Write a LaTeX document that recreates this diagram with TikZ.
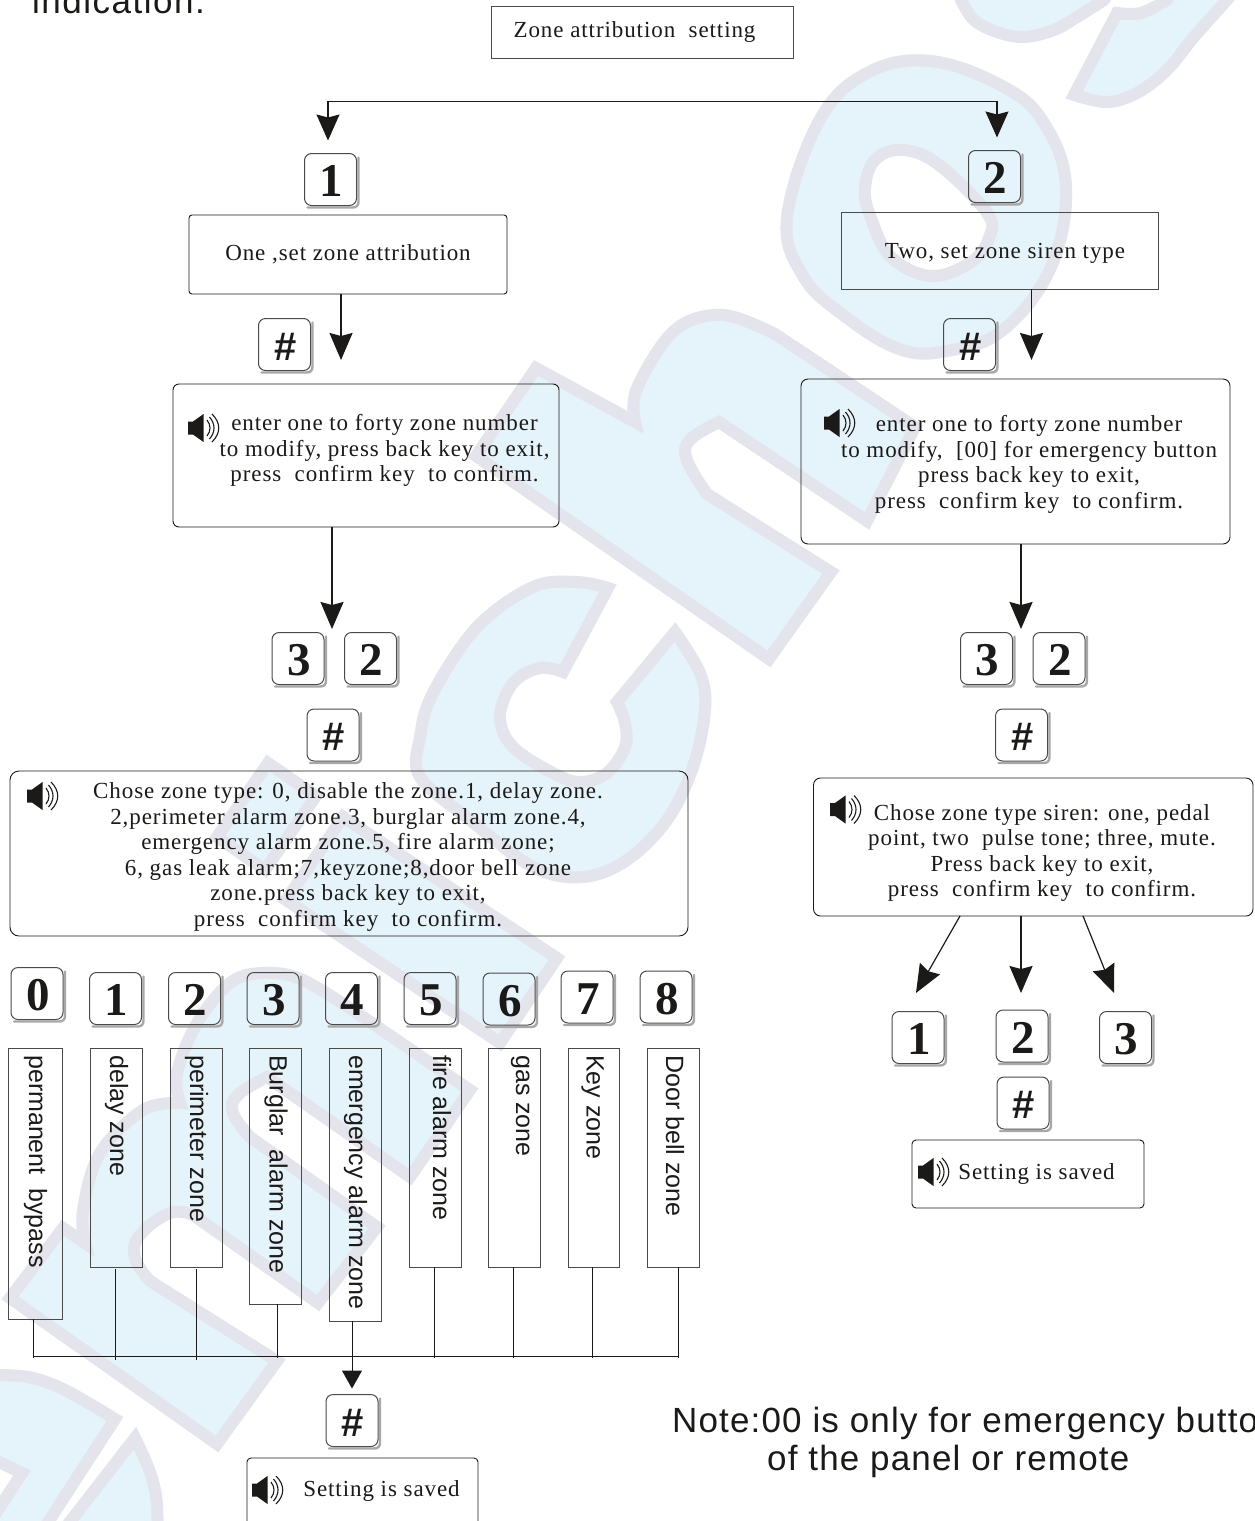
\documentclass[tikz,border=0pt]{standalone}
\usepackage{fontspec}
\usetikzlibrary{arrows.meta,calc}
\newfontfamily\serfont[LetterSpace=4]{Liberation Serif}
\newfontfamily\serbold{Liberation Serif}
\newfontfamily\sansfont{Liberation Sans}
\newfontfamily\sanswide[LetterSpace=3.3]{Liberation Sans}
\definecolor{wmfill}{HTML}{E5F3FA}
\definecolor{wmline}{HTML}{E3E4EC}
\definecolor{ink}{HTML}{1C1A18}
\definecolor{rim}{HTML}{4A4A4A}
\definecolor{keyshade}{HTML}{A8A8A8}
\tikzset{
  wm/.style={fill=wmfill,draw=wmline,line width=12pt,miter limit=6},
  flowbox/.style={draw=ink,line width=.9pt,inner sep=0pt,outer sep=0pt},
  rimbox/.style={draw=rim,line width=1pt,inner sep=0pt,outer sep=0pt},
  keycap/.style={draw=rim,line width=1pt,rounded corners=7pt,minimum width=52pt,minimum height=52pt,inner sep=0pt,outer sep=0pt,text=ink},
  digitfont/.style={font=\serbold\bfseries\fontsize{47}{47}\selectfont,text height=34.5pt,text depth=0pt},
  hashfont/.style={font=\sansfont\bfseries\fontsize{40}{40}\selectfont,text height=31pt,text depth=0pt},
  body/.style={font=\serfont\fontsize{23}{25.5}\selectfont,align=center,inner sep=0pt,text=ink},
  barlabel/.style={font=\sansfont\fontsize{25}{25}\selectfont,rotate=-90,anchor=base west,inner sep=0pt,text=ink},
  note/.style={font=\sanswide\fontsize{35}{35}\selectfont,anchor=base west,inner sep=0pt,text=ink},
  bar/.style={rimbox,anchor=north,minimum width=51.5pt},
  bigarrow/.style={draw=ink,line width=1.8pt,-{Stealth[length=27pt,width=23pt,inset=3pt]}},
  thinarrow/.style={draw=ink,line width=1.2pt,-{Stealth[length=26pt,width=23pt,inset=3pt]}},
  fanarrow/.style={draw=ink,line width=1.2pt,-{Stealth[length=28pt,width=23pt,inset=3pt]}},
  stem/.style={draw=ink,line width=.9pt},
  spk/.pic={
    \fill[ink] (0,-6.5) -- (5,-6.5) -- (15.5,-14) -- (15.5,14) -- (5,6.5) -- (0,6.5) -- cycle;
    \draw[ink,line width=1.1pt] (19,-8) .. controls (23,-3) and (23,3) .. (19,8);
    \draw[ink,line width=1.1pt] (21.5,-11) .. controls (27.5,-4) and (27.5,4) .. (21.5,11);
    \draw[ink,line width=1.1pt] (24,-14) .. controls (33,-5) and (33,5) .. (24,14);
  }
}
% name, text, style, x, y
\newcommand{\keybox}[5]{%
  \draw[keyshade,line width=2.4pt,line cap=round] (#4-23,#5+28) -- (#4+22,#5+28) .. controls (#4+26,#5+28) and (#4+28,#5+26) .. (#4+28,#5+22) -- (#4+28,#5-22);
  \node[keycap,#3] (#1) at (#4,#5) {\kern2pt#2};}
\begin{document}
\begin{tikzpicture}[x=1pt,y=-1pt]
\useasboundingbox (0,0) rectangle (1254,1521);
\clip (0,0) rectangle (1254,1521);
\fill[white] (0,0) rectangle (1254,1521);
% ---- watermark ----
% s, top right
\draw[wm] (955,-30) -- plot[smooth,tension=.6] coordinates {(961,0) (974,20) (997,32) (1024,37) (1054,30) (1077,17) (1104,0)} -- (1125,-30) -- cycle;
\draw[wm] (1117,13) -- (1074,95) -- plot[smooth,tension=.6] coordinates {(1074,95) (1107,102) (1137,93) (1167,70) (1194,37) (1227,0)} -- (1250,-30) -- (1180,-30) -- plot[smooth,tension=.6] coordinates {(1167,0) (1141,13) (1117,13)} -- cycle;
% o
\draw[wm,even odd rule]
  plot[smooth cycle,tension=.65] coordinates {(787,218) (819,121) (867,73) (931,61) (1004,87) (1044,123) (1066,186) (1051,267) (1003,330) (947,351) (899,349) (843,315) (803,276)}
  plot[smooth cycle,tension=.65] coordinates {(865,189) (875,160) (903,150) (939,165) (987,213) (989,238) (971,262) (931,276) (891,257) (871,218)};
% h
\draw[wm] (536,368) -- (635,422) -- plot[smooth,tension=.6] coordinates {(635,422) (637,388) (675,330) (723,315) (775,334)} -- (915,427) -- (867,521) -- (719,422) -- plot[smooth,tension=.7] coordinates {(719,422) (690,440) (687,460) (707,494)} -- (831,572) -- (769,659) -- (476,456) -- cycle;
% c
\draw[wm] (608,588) -- (563,672) -- plot[smooth,tension=.6] coordinates {(563,672) (540,668) (513,683) (500,717) (513,747) (553,773) (580,782) (607,773) (625,747) (625,723) (617,702)} -- (675,632) -- plot[smooth,tension=.6] coordinates {(675,632) (700,673) (705,710) (693,767) (667,820) (627,860) (583,877) (533,867) (470,820) (420,777) (420,737) (433,693) (477,627) (533,587) (577,582) (608,588)} -- cycle;
% i
\draw[wm] (268,763) -- (316,796) -- (265,870) -- (217,837) -- cycle;
\draw[wm] (343,817) -- (557,958) -- (500,1043) -- (286,900) -- cycle;
% m
\draw[wm] (10,1298) -- (63,1228) -- (85,1243) -- plot[smooth,tension=.6] coordinates {(85,1243) (83,1210) (100,1153) (143,1110) (180,1103)} -- plot[smooth,tension=.6] coordinates {(180,1103) (177,1073) (197,1023) (230,983) (263,973) (303,980) (363,1017)} -- (470,1090) -- (410,1177) -- (267,1077) -- plot[smooth,tension=.7] coordinates {(267,1077) (238,1095) (233,1113) (250,1137)} -- (377,1227) -- (318,1303) -- (193,1215) -- plot[smooth,tension=.7] coordinates {(193,1215) (170,1213) (140,1235) (135,1258) (150,1281)} -- (277,1361) -- (217,1444) -- cycle;
% bottom left pieces
\draw[wm] (-30,1376) -- plot[smooth,tension=.6] coordinates {(-30,1376) (0,1375) (33,1378) (67,1391) (115,1419)} -- (30,1550) -- (-28,1550) -- (22,1473) -- (-30,1448) -- cycle;
\draw[wm] (135,1438) -- plot[smooth,tension=.6] coordinates {(135,1438) (150,1472) (157,1504) (157,1550)} -- (48,1550) -- cycle;
% ---- top text ----
\node[font=\sansfont\fontsize{35}{35}\selectfont,anchor=base west,inner sep=0pt,text=ink] (topline) at (32,13.5) {i\kern1.5pt n\kern1.5pt d\kern1.5pt i\kern1.5pt c\kern1.5pt a\kern1.5pt t\kern1.5pt i\kern1.5pt o\kern1.5pt n\kern1.5pt .};
% ---- flow boxes ----
\node[rimbox,minimum width=301.5pt,minimum height=52pt] (head) at (642.25,32) {};
\node[flowbox,rounded corners=3pt,minimum width=318pt,minimum height=79pt] (one) at (348,254.5) {};
\node[rimbox,minimum width=317pt,minimum height=77pt] (two) at (999.5,250.5) {};
\node[flowbox,rounded corners=6pt,minimum width=386pt,minimum height=143pt] (enterL) at (366,455.5) {};
\node[flowbox,rounded corners=7pt,minimum width=429pt,minimum height=165pt] (enterR) at (1015.5,461.5) {};
\node[flowbox,rounded corners=9pt,minimum width=678pt,minimum height=165pt] (choseL) at (349,853.5) {};
\node[flowbox,rounded corners=7pt,minimum width=439.5pt,minimum height=138pt] (choseR) at (1033.25,847) {};
\node[flowbox,rounded corners=4pt,minimum width=232pt,minimum height=68pt] (savedR) at (1028,1174) {};
\node[flowbox,rounded corners=4pt,minimum width=231pt,minimum height=72pt] (savedL) at (362.5,1494) {};
% ---- box texts ----
\node[body] (headt) at (634.5,31.5) {Zone attribution~ setting};
\node[body] (onet) at (348,254.5) {One ,set zone attribution};
\node[body] (twot) at (1005,253.5) {Two, set zone siren type};
\node[body] (enterLt) at (384.5,450.5) {enter one to forty zone number\\to modify, press back key to exit,\\press~ confirm key~ to confirm.};
\node[body] (enterRt) at (1029,464.5) {enter one to forty zone number\\to modify,~ [00] for emergency button\\press back key to exit,\\press~ confirm key~ to confirm.};
\node[body] (choseLt) at (348,857) {Chose zone type: 0, disable the zone.1, delay zone.\\2,perimeter alarm zone.3, burglar alarm zone.4,\\emergency alarm zone.5, fire alarm zone;\\6, gas leak alarm;7,keyzone;8,door bell zone\\zone.press back key to exit,\\press~ confirm key~ to confirm.};
\node[body] (choseRt) at (1042,853) {Chose zone type siren: one, pedal\\point, two~ pulse tone; three, mute.\\Press back key to exit,\\press~ confirm key~ to confirm.};
\node[body] (savedRt) at (1036.5,1174) {Setting is saved};
\node[body] (savedLt) at (381.5,1491) {Setting is saved};
\pic at (188,428) {spk};
\pic at (824,423) {spk};
\pic at (27,796) {spk};
\pic at (830,809.5) {spk};
\pic at (918,1172) {spk};
\pic at (252,1490) {spk};
% ---- keys ----
\keybox{kOne}{1}{digitfont}{330.5}{179.5}
\keybox{kTwo}{2}{digitfont}{994.5}{176.5}
\keybox{hashL}{\#}{hashfont}{284.5}{344.5}
\keybox{hashR}{\#}{hashfont}{969.5}{344.5}
\keybox{kL3}{3}{digitfont}{298}{658.5}
\keybox{kL2}{2}{digitfont}{370.5}{658.5}
\keybox{hashLb}{\#}{hashfont}{333}{735}
\keybox{kR3}{3}{digitfont}{986.5}{658.5}
\keybox{kR2}{2}{digitfont}{1059}{658.5}
\keybox{hashRb}{\#}{hashfont}{1021.5}{735}
\keybox{z0}{0}{digitfont}{37}{993.5}
\keybox{z1}{1}{digitfont}{115.5}{998.5}
\keybox{z2}{2}{digitfont}{194.5}{998.5}
\keybox{z3}{3}{digitfont}{273}{998.5}
\keybox{z4}{4}{digitfont}{351.5}{998.5}
\keybox{z5}{5}{digitfont}{430}{998.5}
\keybox{z6}{6}{digitfont}{509}{999}
\keybox{z7}{7}{digitfont}{587}{997}
\keybox{z8}{8}{digitfont}{666}{997}
\keybox{s1}{1}{digitfont}{918}{1037.5}
\keybox{s2}{2}{digitfont}{1022}{1036}
\keybox{s3}{3}{digitfont}{1125.5}{1037.5}
\keybox{hashS}{\#}{hashfont}{1023}{1103}
\keybox{hashZ}{\#}{hashfont}{352}{1420.5}
% ---- zone bars ----
\node[bar,minimum width=54pt,minimum height=271pt] (bar0) at (35,1048) {};
\node[bar,minimum height=219pt] (bar1) at (116.5,1048) {};
\node[bar,minimum height=219pt] (bar2) at (196.5,1048) {};
\node[bar,minimum height=256pt] (bar3) at (275.5,1048) {};
\node[bar,minimum height=273pt] (bar4) at (355.5,1048) {};
\node[bar,minimum height=219pt] (bar5) at (435.5,1048) {};
\node[bar,minimum height=219pt] (bar6) at (514.5,1048) {};
\node[bar,minimum height=219pt] (bar7) at (594,1048) {};
\node[bar,minimum height=219pt] (bar8) at (673.5,1048) {};
\node[barlabel] (lab0) at (29,1055) {permanent~ bypass};
\node[barlabel] (lab1) at (110,1055) {delay zone};
\node[barlabel] (lab2) at (190,1055) {perimeter zone};
\node[barlabel] (lab3) at (269.5,1055) {Burglar~ alarm zone};
\node[barlabel] (lab4) at (349,1055) {emergency alarm zone};
\node[barlabel] (lab5) at (433,1055) {fire alarm zone};
\node[barlabel] (lab6) at (516,1055) {gas zone};
\node[barlabel] (lab7) at (586.5,1055) {Key zone};
\node[barlabel] (lab8) at (666,1055) {Door bell zone};
% ---- note ----
\node[note] (note1) at (672,1432) {Note:00 is only for emergency button};
\node[note] (note2) at (767,1470) {of the panel or remote};
% ---- connectors ----
\coordinate (branchL) at (328,101);
\coordinate (branchR) at (997,101);
\draw[stem] (branchL) -- (branchR);
\draw[thinarrow,shorten >=13pt] (branchL) -- (branchL |- kOne.north);
\draw[thinarrow,shorten >=13pt] (branchR) -- (branchR |- kTwo.north);
\draw[bigarrow] ([xshift=-7pt]one.south) -- ++(0,66);
\draw[bigarrow] ([xshift=32pt]two.south) -- ++(0,71);
\draw[bigarrow,shorten >=3.5pt] ([xshift=-34pt]enterL.south) -- ([xshift=-34pt]enterL.south |- kL3.north);
\draw[bigarrow,shorten >=3.5pt] ([xshift=5.5pt]enterR.south) -- ([xshift=5.5pt]enterR.south |- kR2.north);
\coordinate (tipA) at (916,993);
\coordinate (tipB) at (1021,993);
\coordinate (tipC) at (1114,993);
\draw[fanarrow] ([xshift=-73.25pt]choseR.south) -- (tipA);
\draw[bigarrow] ([xshift=-12.25pt]choseR.south) -- (tipB);
\draw[fanarrow] ([xshift=49.75pt]choseR.south) -- (tipC);
% bus
\coordinate (busL) at (33.5,1356);
\coordinate (busR) at (678,1356);
\draw[stem] (busL) -- (busR);
\draw[stem] ([xshift=-1.5pt]bar0.south) -- ++(0,39);
\draw[stem] ([xshift=-1pt,yshift=-2pt]bar1.south) -- ++(0,91);
\draw[stem] ([xshift=-.5pt,yshift=-2pt]bar2.south) -- ++(0,91);
\draw[stem] ([xshift=1.5pt]bar3.south) -- ++(0,54);
\draw[stem] ([xshift=-1pt]bar5.south) -- ++(0,91);
\draw[stem] ([xshift=-1.5pt]bar6.south) -- ++(0,91);
\draw[stem] ([xshift=-2pt]bar7.south) -- ++(0,91);
\draw[stem] ([xshift=4.5pt]bar8.south) -- ++(0,91);
\draw[draw=ink,line width=1pt,-{Stealth[length=18pt,width=20pt,inset=0pt]},shorten >=6pt] ([xshift=-3.5pt]bar4.south) -- ([xshift=-3.5pt]bar4.south |- hashZ.north);
\end{tikzpicture}
\end{document}
